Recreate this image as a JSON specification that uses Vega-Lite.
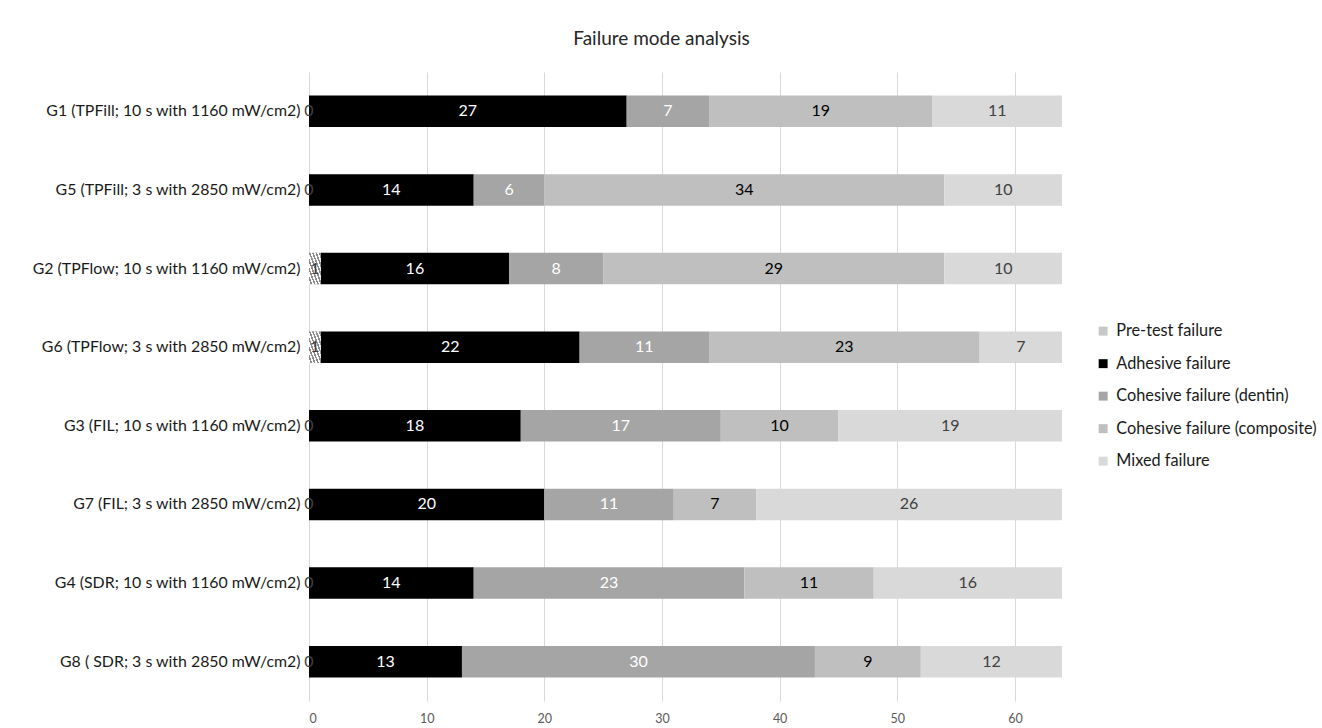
{
  "$schema": "https://vega.github.io/schema/vega-lite/v6.json",
  "autosize": "none",
  "width": 753,
  "height": 629,
  "padding": {"left": 309, "top": 72, "right": 260, "bottom": 27},
  "background": "white",
  "config": {"view": {"stroke": null}, "font": "Lato"},
  "title": {"text": "Failure mode analysis", "fontSize": 19, "fontWeight": "normal", "color": "#262626", "anchor": "middle", "dx": -24, "offset": 23, "font": "Lato"},
  "data": {"values": [
    {"group": "G1 (TPFill; 10 s with 1160 mW/cm2)", "mode": "Pre-test failure", "n": 0},
    {"group": "G1 (TPFill; 10 s with 1160 mW/cm2)", "mode": "Adhesive failure", "n": 27},
    {"group": "G1 (TPFill; 10 s with 1160 mW/cm2)", "mode": "Cohesive failure (dentin)", "n": 7},
    {"group": "G1 (TPFill; 10 s with 1160 mW/cm2)", "mode": "Cohesive failure (composite)", "n": 19},
    {"group": "G1 (TPFill; 10 s with 1160 mW/cm2)", "mode": "Mixed failure", "n": 11},
    {"group": "G5 (TPFill; 3 s with 2850 mW/cm2)", "mode": "Pre-test failure", "n": 0},
    {"group": "G5 (TPFill; 3 s with 2850 mW/cm2)", "mode": "Adhesive failure", "n": 14},
    {"group": "G5 (TPFill; 3 s with 2850 mW/cm2)", "mode": "Cohesive failure (dentin)", "n": 6},
    {"group": "G5 (TPFill; 3 s with 2850 mW/cm2)", "mode": "Cohesive failure (composite)", "n": 34},
    {"group": "G5 (TPFill; 3 s with 2850 mW/cm2)", "mode": "Mixed failure", "n": 10},
    {"group": "G2 (TPFlow; 10 s with 1160 mW/cm2)", "mode": "Pre-test failure", "n": 1},
    {"group": "G2 (TPFlow; 10 s with 1160 mW/cm2)", "mode": "Adhesive failure", "n": 16},
    {"group": "G2 (TPFlow; 10 s with 1160 mW/cm2)", "mode": "Cohesive failure (dentin)", "n": 8},
    {"group": "G2 (TPFlow; 10 s with 1160 mW/cm2)", "mode": "Cohesive failure (composite)", "n": 29},
    {"group": "G2 (TPFlow; 10 s with 1160 mW/cm2)", "mode": "Mixed failure", "n": 10},
    {"group": "G6 (TPFlow; 3 s with 2850 mW/cm2)", "mode": "Pre-test failure", "n": 1},
    {"group": "G6 (TPFlow; 3 s with 2850 mW/cm2)", "mode": "Adhesive failure", "n": 22},
    {"group": "G6 (TPFlow; 3 s with 2850 mW/cm2)", "mode": "Cohesive failure (dentin)", "n": 11},
    {"group": "G6 (TPFlow; 3 s with 2850 mW/cm2)", "mode": "Cohesive failure (composite)", "n": 23},
    {"group": "G6 (TPFlow; 3 s with 2850 mW/cm2)", "mode": "Mixed failure", "n": 7},
    {"group": "G3 (FIL; 10 s with 1160 mW/cm2)", "mode": "Pre-test failure", "n": 0},
    {"group": "G3 (FIL; 10 s with 1160 mW/cm2)", "mode": "Adhesive failure", "n": 18},
    {"group": "G3 (FIL; 10 s with 1160 mW/cm2)", "mode": "Cohesive failure (dentin)", "n": 17},
    {"group": "G3 (FIL; 10 s with 1160 mW/cm2)", "mode": "Cohesive failure (composite)", "n": 10},
    {"group": "G3 (FIL; 10 s with 1160 mW/cm2)", "mode": "Mixed failure", "n": 19},
    {"group": "G7 (FIL; 3 s with 2850 mW/cm2)", "mode": "Pre-test failure", "n": 0},
    {"group": "G7 (FIL; 3 s with 2850 mW/cm2)", "mode": "Adhesive failure", "n": 20},
    {"group": "G7 (FIL; 3 s with 2850 mW/cm2)", "mode": "Cohesive failure (dentin)", "n": 11},
    {"group": "G7 (FIL; 3 s with 2850 mW/cm2)", "mode": "Cohesive failure (composite)", "n": 7},
    {"group": "G7 (FIL; 3 s with 2850 mW/cm2)", "mode": "Mixed failure", "n": 26},
    {"group": "G4 (SDR; 10 s with 1160 mW/cm2)", "mode": "Pre-test failure", "n": 0},
    {"group": "G4 (SDR; 10 s with 1160 mW/cm2)", "mode": "Adhesive failure", "n": 14},
    {"group": "G4 (SDR; 10 s with 1160 mW/cm2)", "mode": "Cohesive failure (dentin)", "n": 23},
    {"group": "G4 (SDR; 10 s with 1160 mW/cm2)", "mode": "Cohesive failure (composite)", "n": 11},
    {"group": "G4 (SDR; 10 s with 1160 mW/cm2)", "mode": "Mixed failure", "n": 16},
    {"group": "G8 ( SDR; 3 s with 2850 mW/cm2)", "mode": "Pre-test failure", "n": 0},
    {"group": "G8 ( SDR; 3 s with 2850 mW/cm2)", "mode": "Adhesive failure", "n": 13},
    {"group": "G8 ( SDR; 3 s with 2850 mW/cm2)", "mode": "Cohesive failure (dentin)", "n": 30},
    {"group": "G8 ( SDR; 3 s with 2850 mW/cm2)", "mode": "Cohesive failure (composite)", "n": 9},
    {"group": "G8 ( SDR; 3 s with 2850 mW/cm2)", "mode": "Mixed failure", "n": 12}
  ]},
  "transform": [
    {"calculate": "indexof(['Pre-test failure','Adhesive failure','Cohesive failure (dentin)','Cohesive failure (composite)','Mixed failure'], datum.mode)", "as": "ord"}
  ],
  "encoding": {
    "y": {
      "field": "group", "type": "nominal",
      "sort": ["G1 (TPFill; 10 s with 1160 mW/cm2)", "G5 (TPFill; 3 s with 2850 mW/cm2)", "G2 (TPFlow; 10 s with 1160 mW/cm2)", "G6 (TPFlow; 3 s with 2850 mW/cm2)", "G3 (FIL; 10 s with 1160 mW/cm2)", "G7 (FIL; 3 s with 2850 mW/cm2)", "G4 (SDR; 10 s with 1160 mW/cm2)", "G8 ( SDR; 3 s with 2850 mW/cm2)"],
      "scale": {"paddingInner": 0.6, "paddingOuter": 0.3},
      "axis": {"title": null, "domain": false, "ticks": false, "labelFontSize": 15.9, "labelPadding": 9, "labelColor": "#1a1a1a", "labelFont": "Lato", "labelLimit": 400}
    }
  },
  "layer": [
    {
      "mark": {"type": "bar"},
      "encoding": {
        "x": {"field": "n", "type": "quantitative", "stack": "zero",
          "scale": {"domain": [0, 64], "nice": false},
          "axis": {"title": null, "values": [0, 10, 20, 30, 40, 50, 60], "grid": true, "gridColor": "#d9d9d9", "domain": false, "ticks": false, "labelColor": "#595959", "labelFontSize": 12.5, "labelPadding": 11, "labelFont": "Lato"}},
        "color": {"field": "mode", "type": "nominal",
          "scale": {"domain": ["Pre-test failure", "Adhesive failure", "Cohesive failure (dentin)", "Cohesive failure (composite)", "Mixed failure"], "range": ["#c8c8c8", "#000000", "#a5a5a5", "#bfbfbf", "#d9d9d9"]},
          "legend": {"title": null, "orient": "none", "legendX": 786, "legendY": 251, "symbolType": "square", "symbolSize": 80, "symbolStrokeWidth": 0, "labelFontSize": 16.3, "labelColor": "#1a1a1a", "labelFont": "Lato", "rowPadding": 15.5, "labelOffset": 5, "labelLimit": 300}},
        "order": {"field": "ord", "type": "quantitative"}
      }
    },
    {
      "transform": [{"filter": "datum.mode === 'Pre-test failure'"}],
      "mark": {"type": "bar", "color": {"gradient": "linear", "x1": 0, "y1": 1, "x2": 1, "y2": 0, "stops": [
        {"offset": 0, "color": "#ffffff"}, {"offset": 0.07, "color": "#ffffff"}, {"offset": 0.07, "color": "#8c8c8c"}, {"offset": 0.14, "color": "#8c8c8c"},
        {"offset": 0.14, "color": "#ffffff"}, {"offset": 0.21, "color": "#ffffff"}, {"offset": 0.21, "color": "#8c8c8c"}, {"offset": 0.28, "color": "#8c8c8c"},
        {"offset": 0.28, "color": "#ffffff"}, {"offset": 0.35, "color": "#ffffff"}, {"offset": 0.35, "color": "#8c8c8c"}, {"offset": 0.42, "color": "#8c8c8c"},
        {"offset": 0.42, "color": "#ffffff"}, {"offset": 0.49, "color": "#ffffff"}, {"offset": 0.49, "color": "#8c8c8c"}, {"offset": 0.56, "color": "#8c8c8c"},
        {"offset": 0.56, "color": "#ffffff"}, {"offset": 0.63, "color": "#ffffff"}, {"offset": 0.63, "color": "#8c8c8c"}, {"offset": 0.70, "color": "#8c8c8c"},
        {"offset": 0.70, "color": "#ffffff"}, {"offset": 0.77, "color": "#ffffff"}, {"offset": 0.77, "color": "#8c8c8c"}, {"offset": 0.84, "color": "#8c8c8c"},
        {"offset": 0.84, "color": "#ffffff"}, {"offset": 0.91, "color": "#ffffff"}, {"offset": 0.91, "color": "#8c8c8c"}, {"offset": 1, "color": "#8c8c8c"}
      ]}},
      "encoding": {
        "x": {"field": "n", "type": "quantitative", "stack": null}
      }
    },
    {
      "mark": {"type": "text", "fontSize": 16, "font": "Lato"},
      "encoding": {
        "x": {"field": "n", "type": "quantitative", "stack": "zero", "bandPosition": 0.5},
        "text": {"field": "n", "type": "quantitative"},
        "order": {"field": "ord", "type": "quantitative"},
        "color": {"field": "mode", "type": "nominal",
          "scale": {"domain": ["Pre-test failure", "Adhesive failure", "Cohesive failure (dentin)", "Cohesive failure (composite)", "Mixed failure"], "range": ["#404040", "#ffffff", "#ffffff", "#000000", "#404040"]},
          "legend": null}
      }
    }
  ],
  "resolve": {"scale": {"color": "independent"}}
}
